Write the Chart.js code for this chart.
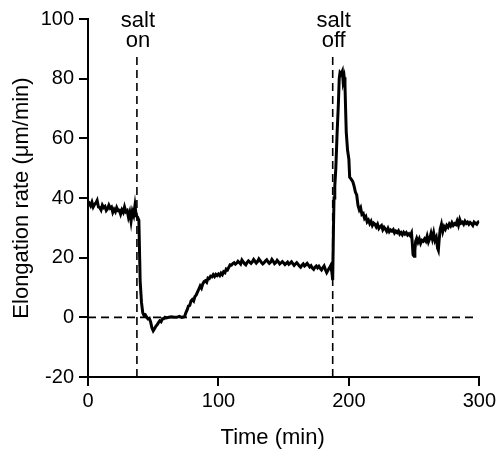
<!DOCTYPE html>
<html>
<head>
<meta charset="utf-8">
<script src="https://cdn.jsdelivr.net/npm/chart.js@4"></script>
<style>
  html, body { margin: 0; padding: 0; background: #fff; }
  #wrap { width: 499px; height: 449px; }
</style>
</head>
<body>
<div id="wrap"><canvas id="rateChart" width="499" height="449"></canvas></div>
<script>
// Elongation rate trace (time in min, rate in um/min)
const timeMin = [
  0, 1, 2, 3, 4, 5, 6, 7, 8, 9, 10, 11, 12, 13, 14, 15, 16, 17, 18, 19,
  20, 21, 22, 23, 24, 25, 26, 27, 28, 29, 30, 31, 32, 33, 34, 35, 36, 37, 38, 39,
  40, 41, 42, 43, 44, 45, 46, 47, 48, 49, 50, 51, 52, 53, 54, 55, 56, 57, 58, 59,
  60, 62, 64, 66, 68, 70, 72, 74, 75, 76, 77, 78, 79, 80, 81, 82, 83, 84, 85, 86,
  87, 88, 89, 90, 91, 92, 93, 94, 95, 96, 97, 98, 99, 100, 101, 102, 103, 104, 105, 106,
  107, 108, 109, 110, 111, 112, 113, 114, 115, 116, 117, 118, 119, 120, 121, 122, 123, 124, 125, 126,
  127, 128, 129, 130, 131, 132, 133, 134, 135, 136, 137, 138, 139, 140, 141, 142, 143, 144, 145, 146,
  147, 148, 149, 150, 151, 152, 153, 154, 155, 156, 157, 158, 159, 160, 161, 162, 163, 164, 165, 166,
  167, 168, 169, 170, 171, 172, 173, 174, 175, 176, 177, 178, 179, 180, 181, 182, 183, 184, 185, 186,
  187, 187.6, 188.2, 188.6, 189.2, 190, 191, 192, 192.6, 193.2, 194, 195, 195.6, 196.4, 197, 197.6, 198, 199, 200, 200.6,
  201.5, 203, 204, 205, 206, 207, 208, 209, 210, 211, 212, 213, 214, 215, 216, 217, 218, 219, 220, 221,
  222, 223, 224, 225, 226, 227, 228, 229, 230, 231, 232, 233, 234, 235, 236, 237, 238, 239, 240, 241,
  242, 243, 244, 245, 246, 247, 248, 248.6, 249.2, 250, 250.6, 251.2, 252, 253, 254, 255, 256, 257, 258, 259,
  260, 261, 262, 263, 264, 265, 266, 267, 268, 268.6, 269.2, 270, 271, 272, 273, 274, 275, 276, 277, 278,
  279, 280, 281, 282, 283, 284, 285, 286, 287, 288, 289, 290, 291, 292, 293, 294, 295, 296, 297, 298,
  299, 300
];
const rate = [
  37.5, 38.2, 37.4, 38.6, 37, 37.8, 38.3, 39.2, 37, 36.8, 36, 37.6, 36.8, 37.2, 35.8, 36.4, 37.6, 36.6, 37, 35.2,
  36.2, 35.4, 36.8, 35.8, 35.9, 34.6, 36, 35.2, 37, 35.4, 35.8, 33.6, 35.2, 32.2, 35.5, 34.2, 37.5, 34, 33.6, 32.5,
  12, 5, 1.5, 0.5, 0.8, 0, -0.5, -0.3, -1.5, -3.5, -4.5, -3.8, -3, -2.5, -1.8, -1.2, -1.5, -0.5, -0.5, 0,
  -0.2, 0, 0.2, 0, 0, 0.3, 0, 0.2, 1.5, 2.5, 3.8, 4, 5.5, 6, 5.5, 7, 7.5, 8.5, 9.5, 10.5,
  9.8, 11.2, 12, 12.3, 11.8, 13.2, 13, 13.8, 13.6, 14.3, 13.7, 14.4, 14, 14.5, 14, 14.8, 14.3, 15.3, 15, 16.2,
  15.9, 16.8, 17.6, 17.5, 18, 18.3, 17.8, 18.2, 18.8, 18.4, 17.9, 19.2, 18.6, 18, 17.6, 18.4, 18.9, 18.5, 18.1, 18.6,
  19.4, 18.8, 18.2, 18.7, 19.6, 19, 18.4, 17.9, 18.3, 18.9, 19.3, 18.6, 18.1, 18.5, 19.4, 18.8, 18, 18.4, 19.1, 18.6,
  17.9, 18.3, 18.7, 18.2, 17.7, 18.1, 18.5, 17.8, 18.2, 18.6, 18, 17.4, 17.9, 18.3, 17.8, 17.2, 16.8, 17.5, 17.9, 17.2,
  17.6, 18.1, 17.5, 16.9, 17.3, 16.5, 16.1, 16.8, 17.2, 16.6, 17.1, 16.4, 15.9, 16.6, 17.2, 16, 15, 15.8, 16.5, 17.3,
  15, 12.5, 30, 40, 44, 50, 62, 72, 80, 82, 81.5, 82.5, 79, 80.5, 78, 68, 62, 56, 53, 47,
  46.5, 45.5, 44, 42, 41, 37.5, 36, 36.8, 34.5, 34.8, 33.2, 33.8, 32, 32.6, 31.4, 32.2, 30.8, 31.6, 31.2, 30.3,
  31.2, 29.8, 30.4, 30.8, 29.4, 30.2, 29.6, 28.8, 29.8, 28.7, 29.3, 28.9, 29.4, 28.3, 28.9, 28.4, 29, 27.9, 28.4, 27.7,
  28.5, 27.9, 28.4, 27.6, 28, 27.4, 28.3, 25, 21, 20.5, 22.5, 25.5, 26.5, 25.2, 26.3, 24.8, 25.8, 25.5, 26.3, 25.6,
  27.2, 25.3, 26.4, 28.2, 26.3, 28.3, 25.8, 26.8, 23.2, 22.5, 26, 29.5, 31.2, 28.8, 30.4, 29.6, 30.8, 30.2, 31.3, 30.6,
  31.7, 30.8, 31.4, 31.1, 32.3, 30.9, 32.8, 31.6, 31.9, 31.2, 32.2, 31.5, 31.9, 31.2, 31.8, 31.4, 30.8, 31.9, 31.5, 31.2,
  31.9, 32.2
];

// Event markers
const eventTimes = [37.5, 187.6];
const eventLabels = [['salt', 'on'], ['salt', 'off']];
const markerTop = 88.4;
const zeroLineEnd = 296;

// Axis ticks
const xTicks = [0, 100, 200, 300];
const yTicks = [-20, 0, 20, 40, 60, 80, 100];

const FONT = '"Liberation Sans", Arial, sans-serif';

const trace = timeMin.map((t, i) => ({ x: t, y: rate[i] }));
const dashed = { borderColor: '#000', borderWidth: 1.6, borderDash: [8, 5], pointRadius: 0, fill: false };

const datasets = [
  { data: trace, borderColor: '#000', borderWidth: 3, pointRadius: 0, tension: 0, fill: false },
  { data: [{ x: 0, y: 0 }, { x: zeroLineEnd, y: 0 }], ...dashed }
];
eventTimes.forEach(t => {
  datasets.push({ data: [{ x: t, y: -20 }, { x: t, y: markerTop }], ...dashed });
});

// "salt on" / "salt off" above the markers, plus the x title (sits a bit left of centre)
const labelPlugin = {
  id: 'labels',
  afterDraw(chart) {
    const { ctx, scales, chartArea } = chart;
    ctx.save();
    ctx.fillStyle = '#000';
    ctx.font = `22px ${FONT}`;
    ctx.textAlign = 'center';
    ctx.textBaseline = 'alphabetic';
    eventTimes.forEach((t, i) => {
      const x = scales.x.getPixelForValue(t) + 1;
      ctx.fillText(eventLabels[i][0], x, 27);
      ctx.fillText(eventLabels[i][1], x, 47);
    });
    ctx.fillText('Time (min)', (chartArea.left + chartArea.right) / 2 - 11, 444);
    ctx.restore();
  }
};

new Chart(document.getElementById('rateChart'), {
  type: 'line',
  data: { datasets },
  options: {
    responsive: false,
    animation: false,
    layout: { padding: { top: 19, right: 19, left: 0, bottom: 0 } },
    plugins: { legend: { display: false }, tooltip: { enabled: false } },
    scales: {
      x: {
        type: 'linear',
        min: 0,
        max: 300,
        afterBuildTicks: s => { s.ticks = xTicks.map(v => ({ value: v })); },
        afterFit: s => { s.height = 72; },
        grid: { drawOnChartArea: false, drawTicks: true, tickLength: 9, color: '#000', lineWidth: 2 },
        border: { display: true, color: '#000', width: 2 },
        ticks: { color: '#000', font: { family: FONT, size: 20 }, padding: 3, maxRotation: 0 }
      },
      y: {
        type: 'linear',
        min: -20,
        max: 100,
        afterBuildTicks: s => { s.ticks = yTicks.map(v => ({ value: v })); },
        afterFit: s => { s.width = 88; },
        grid: { drawOnChartArea: false, drawTicks: true, tickLength: 9, color: '#000', lineWidth: 2 },
        border: { display: true, color: '#000', width: 2 },
        ticks: { color: '#000', font: { family: FONT, size: 20 }, padding: 5 },
        title: { display: true, text: 'Elongation rate (μm/min)', color: '#000', font: { family: FONT, size: 22 }, padding: { top: 9 } }
      }
    }
  },
  plugins: [labelPlugin]
});
</script>
</body>
</html>
